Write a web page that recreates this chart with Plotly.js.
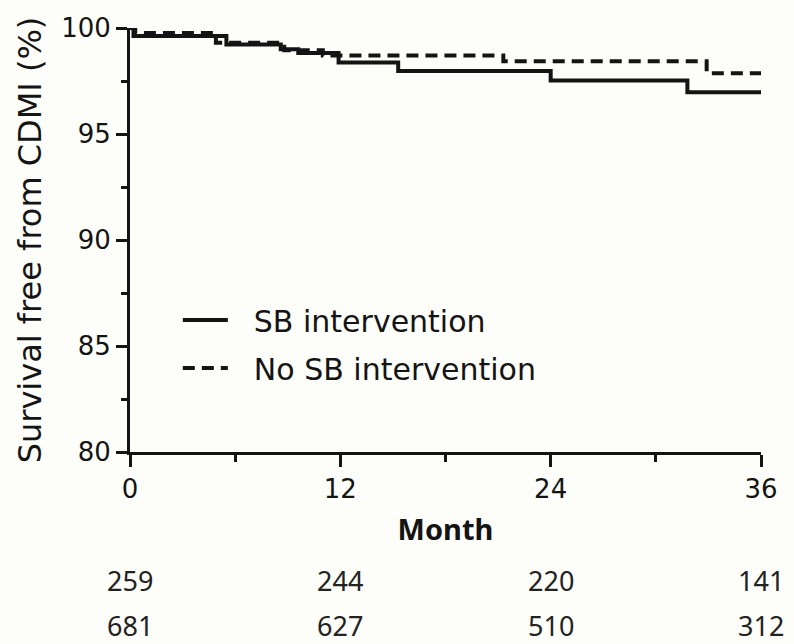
<!DOCTYPE html>
<html>
<head>
<meta charset="utf-8">
<script src="https://cdn.plot.ly/plotly-3.0.1.min.js"></script>
<style>
  html, body { margin: 0; padding: 0; background: #fdfdf9; }
  #chart { width: 794px; height: 644px; }
</style>
</head>
<body>
<div id="chart"></div>
<script>
// Kaplan-Meier curves (months, survival %)
const sbMonths   = [0, 0.2, 5.5, 8.6, 9.6, 11.9, 15.3, 24.0, 31.8, 36];
const sbSurv     = [100, 99.62, 99.22, 99.0, 98.82, 98.37, 97.97, 97.52, 96.97, 96.97];
const noSbMonths = [0, 0.3, 4.9, 8.8, 11.0, 21.3, 32.9, 36];
const noSbSurv   = [100, 99.76, 99.3, 98.95, 98.7, 98.43, 97.87, 97.87];

const seriesNames = ["SB intervention", "No SB intervention"];

// Number-at-risk table
const riskMonths = [0, 12, 24, 36];
const riskSB     = [259, 244, 220, 141];
const riskNoSB   = [681, 627, 510, 312];

const xTicks = [0, 12, 24, 36];
const yTicks = [80, 85, 90, 95, 100];

const ink = "#141414";
const mainFont = "DejaVu Sans, Liberation Sans, sans-serif";
const numFont = "Noto Sans, DejaVu Sans, sans-serif";
const legendPad = "\u2002\u2009";

const traces = [
  {
    x: sbMonths, y: sbSurv, name: legendPad + seriesNames[0], type: "scatter", mode: "lines",
    line: { shape: "hv", color: ink, width: 4 }, legendgroup: "a", cliponaxis: false
  },
  {
    x: noSbMonths, y: noSbSurv, name: legendPad + seriesNames[1], type: "scatter", mode: "lines",
    line: { shape: "hv", color: ink, width: 4, dash: "12px,7px" }, legendgroup: "b", cliponaxis: false
  }
];

const annotations = [];
riskMonths.forEach((m, i) => {
  annotations.push({
    x: m, y: -0.304, xref: "x", yref: "paper", text: String(riskSB[i]),
    showarrow: false, xanchor: "center", yanchor: "middle",
    font: { family: numFont, size: 27, color: "#222" }
  });
  annotations.push({
    x: m, y: -0.41, xref: "x", yref: "paper", text: String(riskNoSB[i]),
    showarrow: false, xanchor: "center", yanchor: "middle",
    font: { family: numFont, size: 27, color: "#222" }
  });
});

const layout = {
  width: 794, height: 644,
  margin: { l: 130, r: 33, t: 28, b: 192 },
  paper_bgcolor: "#fdfdf9", plot_bgcolor: "#fdfdf9",
  showlegend: true,
  legend: {
    x: 0.0758, y: 0.2547, xanchor: "left", yanchor: "middle",
    bgcolor: "rgba(0,0,0,0)", borderwidth: 0,
    font: { family: mainFont, size: 30, color: ink },
    tracegroupgap: 6, itemwidth: 45
  },
  xaxis: {
    range: [0, 36], tickvals: xTicks, ticktext: xTicks.map(String),
    showgrid: false, zeroline: false, showline: true, linecolor: ink, linewidth: 3,
    ticks: "outside", ticklen: 12, tickwidth: 3, tickcolor: ink,
    ticklabelstandoff: 0,
    tickfont: { family: mainFont, size: 26, color: ink },
    minor: { dtick: 6, ticks: "outside", ticklen: 7, tickwidth: 3, tickcolor: ink, showgrid: false },
    title: { text: "Month", standoff: 17, font: { family: numFont, size: 29, color: ink, weight: 700 } },
    automargin: false, fixedrange: true
  },
  yaxis: {
    range: [80, 100], tickvals: yTicks, ticktext: yTicks.map(String),
    showgrid: false, zeroline: false, showline: true, linecolor: ink, linewidth: 3,
    ticks: "outside", ticklen: 11, tickwidth: 3, tickcolor: ink,
    tickfont: { family: mainFont, size: 26, color: ink },
    minor: { dtick: 2.5, ticks: "outside", ticklen: 6, tickwidth: 3, tickcolor: ink, showgrid: false },
    title: { text: "Survival free from CDMI (%)", standoff: 10, font: { family: mainFont, size: 32, color: ink } },
    automargin: false, fixedrange: true
  },
  annotations: annotations
};

Plotly.newPlot("chart", traces, layout, { staticPlot: true, displayModeBar: false });
</script>
</body>
</html>
